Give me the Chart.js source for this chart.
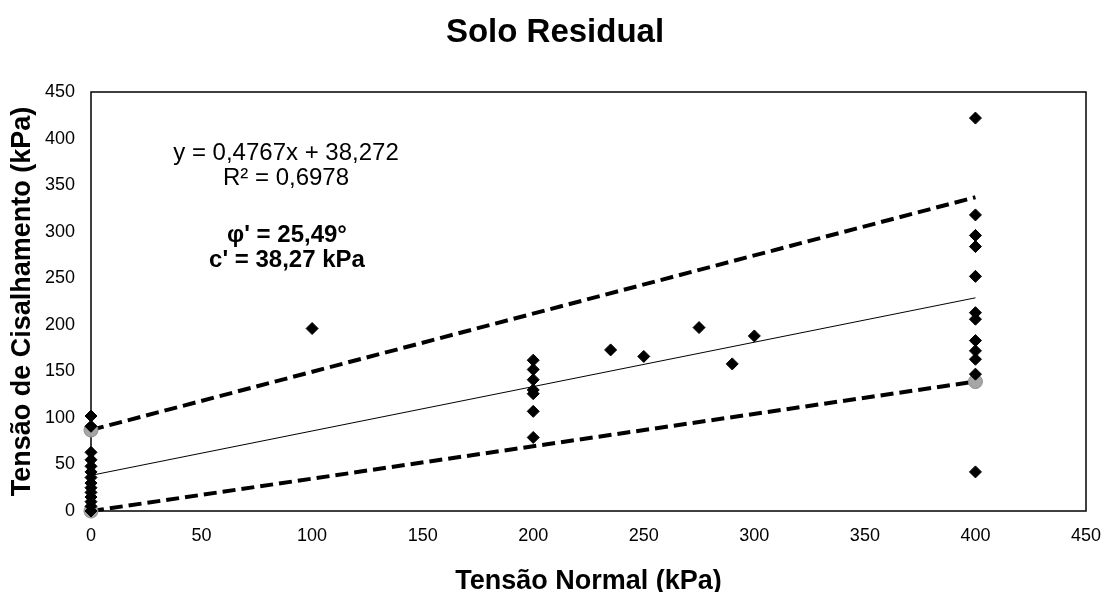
<!DOCTYPE html>
<html>
<head>
<meta charset="utf-8">
<title>Solo Residual</title>
<script src="https://cdn.jsdelivr.net/npm/chart.js@4.4.1/dist/chart.umd.min.js"></script>
<style>
    html, body { margin: 0; padding: 0; background: #fff; }
    #wrap { width: 1103px; height: 592px; }
</style>
</head>
<body>
<div id="wrap"><canvas id="myChart" width="1103" height="592"></canvas></div>
<script>
// ensaios (tensao normal x tensao de cisalhamento), kPa
var ensaioX = [0, 0, 0, 0, 0, 0, 0, 0, 0, 0, 0, 0, 0, 0,
    100,
    200, 200, 200, 200, 200, 200, 200,
    235, 250, 275, 290, 300,
    400, 400, 400, 400, 400, 400, 400, 400, 400, 400, 400, 400];
var ensaioY = [102, 91, 63, 55, 48, 42, 36, 30, 25, 20, 15, 10, 5, 0,
    196,
    162, 152, 141, 130, 126, 107, 79,
    173, 166, 197, 158, 188,
    422, 318, 296, 284, 252, 213, 206, 183, 172, 163, 147, 42];

// envoltorias (tracejadas) e pontos cinza nas extremidades
var envX = [0, 400];
var envSupY = [87, 337];
var envInfY = [0, 139];
var extremoX = [0, 0, 400];
var extremoY = [0, 87, 139];

// linha de tendencia do Excel
var trendSlope = 0.4767;
var trendIntercept = 38.272;
var trendX = [0, 400];

var xTicks = [0, 50, 100, 150, 200, 250, 300, 350, 400, 450];
var yTicks = [0, 50, 100, 150, 200, 250, 300, 350, 400, 450];

var chartTitle = 'Solo Residual';
var textLines = ['y = 0,4767x + 38,272', 'R\u00b2 = 0,6978', "\u03c6' = 25,49\u00b0", "c' = 38,27 kPa"];

var FONT = "'Liberation Sans', Arial, sans-serif";

function toPoints(xs, ys) {
    var pts = [];
    for (var i = 0; i < xs.length; i++) pts.push({x: xs[i], y: ys[i]});
    return pts;
}

var trendPts = trendX.map(function(x) { return {x: x, y: trendSlope * x + trendIntercept}; });

// moldura da area de plotagem + titulo
var frame = {
    id: 'frame',
    beforeDatasetsDraw: function(chart) {
        var a = chart.chartArea, ctx = chart.ctx;
        ctx.save();
        ctx.strokeStyle = '#000';
        ctx.lineWidth = 1.5;
        ctx.strokeRect(a.left, a.top, a.right - a.left, a.bottom - a.top);
        ctx.fillStyle = '#000';
        ctx.textAlign = 'center';
        ctx.textBaseline = 'middle';
        ctx.font = 'bold 33px ' + FONT;
        ctx.fillText(chartTitle, 555, 33);
        ctx.restore();
    }
};

// equacao e parametros
var labels = {
    id: 'labels',
    afterDatasetsDraw: function(chart) {
        var ctx = chart.ctx;
        ctx.save();
        ctx.fillStyle = '#000';
        ctx.textAlign = 'center';
        ctx.textBaseline = 'middle';
        ctx.font = '24px ' + FONT;
        ctx.fillText(textLines[0], 286, 153);
        ctx.fillText(textLines[1], 286, 178);
        ctx.font = 'bold 24px ' + FONT;
        ctx.fillText(textLines[2], 287, 235);
        ctx.fillText(textLines[3], 287, 260);
        ctx.restore();
    }
};

var ctx = document.getElementById('myChart');
var chart = new Chart(ctx, {
    type: 'scatter',
    data: {
        datasets: [{
            label: 'Ensaios',
            data: toPoints(ensaioX, ensaioY),
            pointStyle: 'rectRot',
            pointRadius: 6,
            backgroundColor: '#000',
            borderColor: '#000',
            borderWidth: 1,
            clip: false,
            order: 0
        }, {
            label: 'Extremos',
            data: toPoints(extremoX, extremoY),
            pointStyle: 'circle',
            pointRadius: 7,
            backgroundColor: '#a6a6a6',
            borderColor: '#8c8c8c',
            borderWidth: 1,
            clip: false,
            order: 1
        }, {
            label: 'Tendencia',
            data: trendPts,
            showLine: true,
            borderColor: '#000',
            borderWidth: 1,
            pointRadius: 0,
            order: 2
        }, {
            label: 'Envoltoria superior',
            data: toPoints(envX, envSupY),
            showLine: true,
            borderColor: '#000',
            borderWidth: 4,
            borderDash: [13, 6],
            pointRadius: 0,
            clip: false,
            order: 3
        }, {
            label: 'Envoltoria inferior',
            data: toPoints(envX, envInfY),
            showLine: true,
            borderColor: '#000',
            borderWidth: 4,
            borderDash: [13, 6],
            pointRadius: 0,
            clip: false,
            order: 3
        }]
    },
    options: {
        responsive: false,
        animation: false,
        layout: {padding: {left: 0, right: 0, top: 92, bottom: 0}},
        plugins: {
            legend: {display: false},
            tooltip: {enabled: false},
            title: {display: false}
        },
        scales: {
            x: {
                type: 'linear',
                min: 0,
                max: 450,
                afterBuildTicks: function(s) { s.ticks = xTicks.map(function(v) { return {value: v}; }); },
                afterFit: function(s) { s.height = 81; s.paddingRight = 17; s.paddingLeft = 0; },
                grid: {display: false, drawTicks: false},
                border: {display: false},
                ticks: {color: '#000', padding: 14, font: {family: FONT, size: 18}},
                title: {
                    display: true,
                    text: 'Tens\u00e3o Normal (kPa)',
                    color: '#000',
                    font: {family: FONT, size: 27, weight: 'bold', lineHeight: 0.8},
                    padding: {top: 0, bottom: 0}
                }
            },
            y: {
                type: 'linear',
                min: 0,
                max: 450,
                afterBuildTicks: function(s) { s.ticks = yTicks.map(function(v) { return {value: v}; }); },
                afterFit: function(s) { s.width = 91; },
                grid: {display: false, drawTicks: false},
                border: {display: false},
                ticks: {color: '#000', padding: 16, font: {family: FONT, size: 18}},
                title: {
                    display: true,
                    text: 'Tens\u00e3o de Cisalhamento (kPa)',
                    color: '#000',
                    font: {family: FONT, size: 27, weight: 'bold', lineHeight: 1},
                    padding: {top: 9, bottom: 0}
                }
            }
        }
    },
    plugins: [frame, labels]
});
</script>
</body>
</html>
